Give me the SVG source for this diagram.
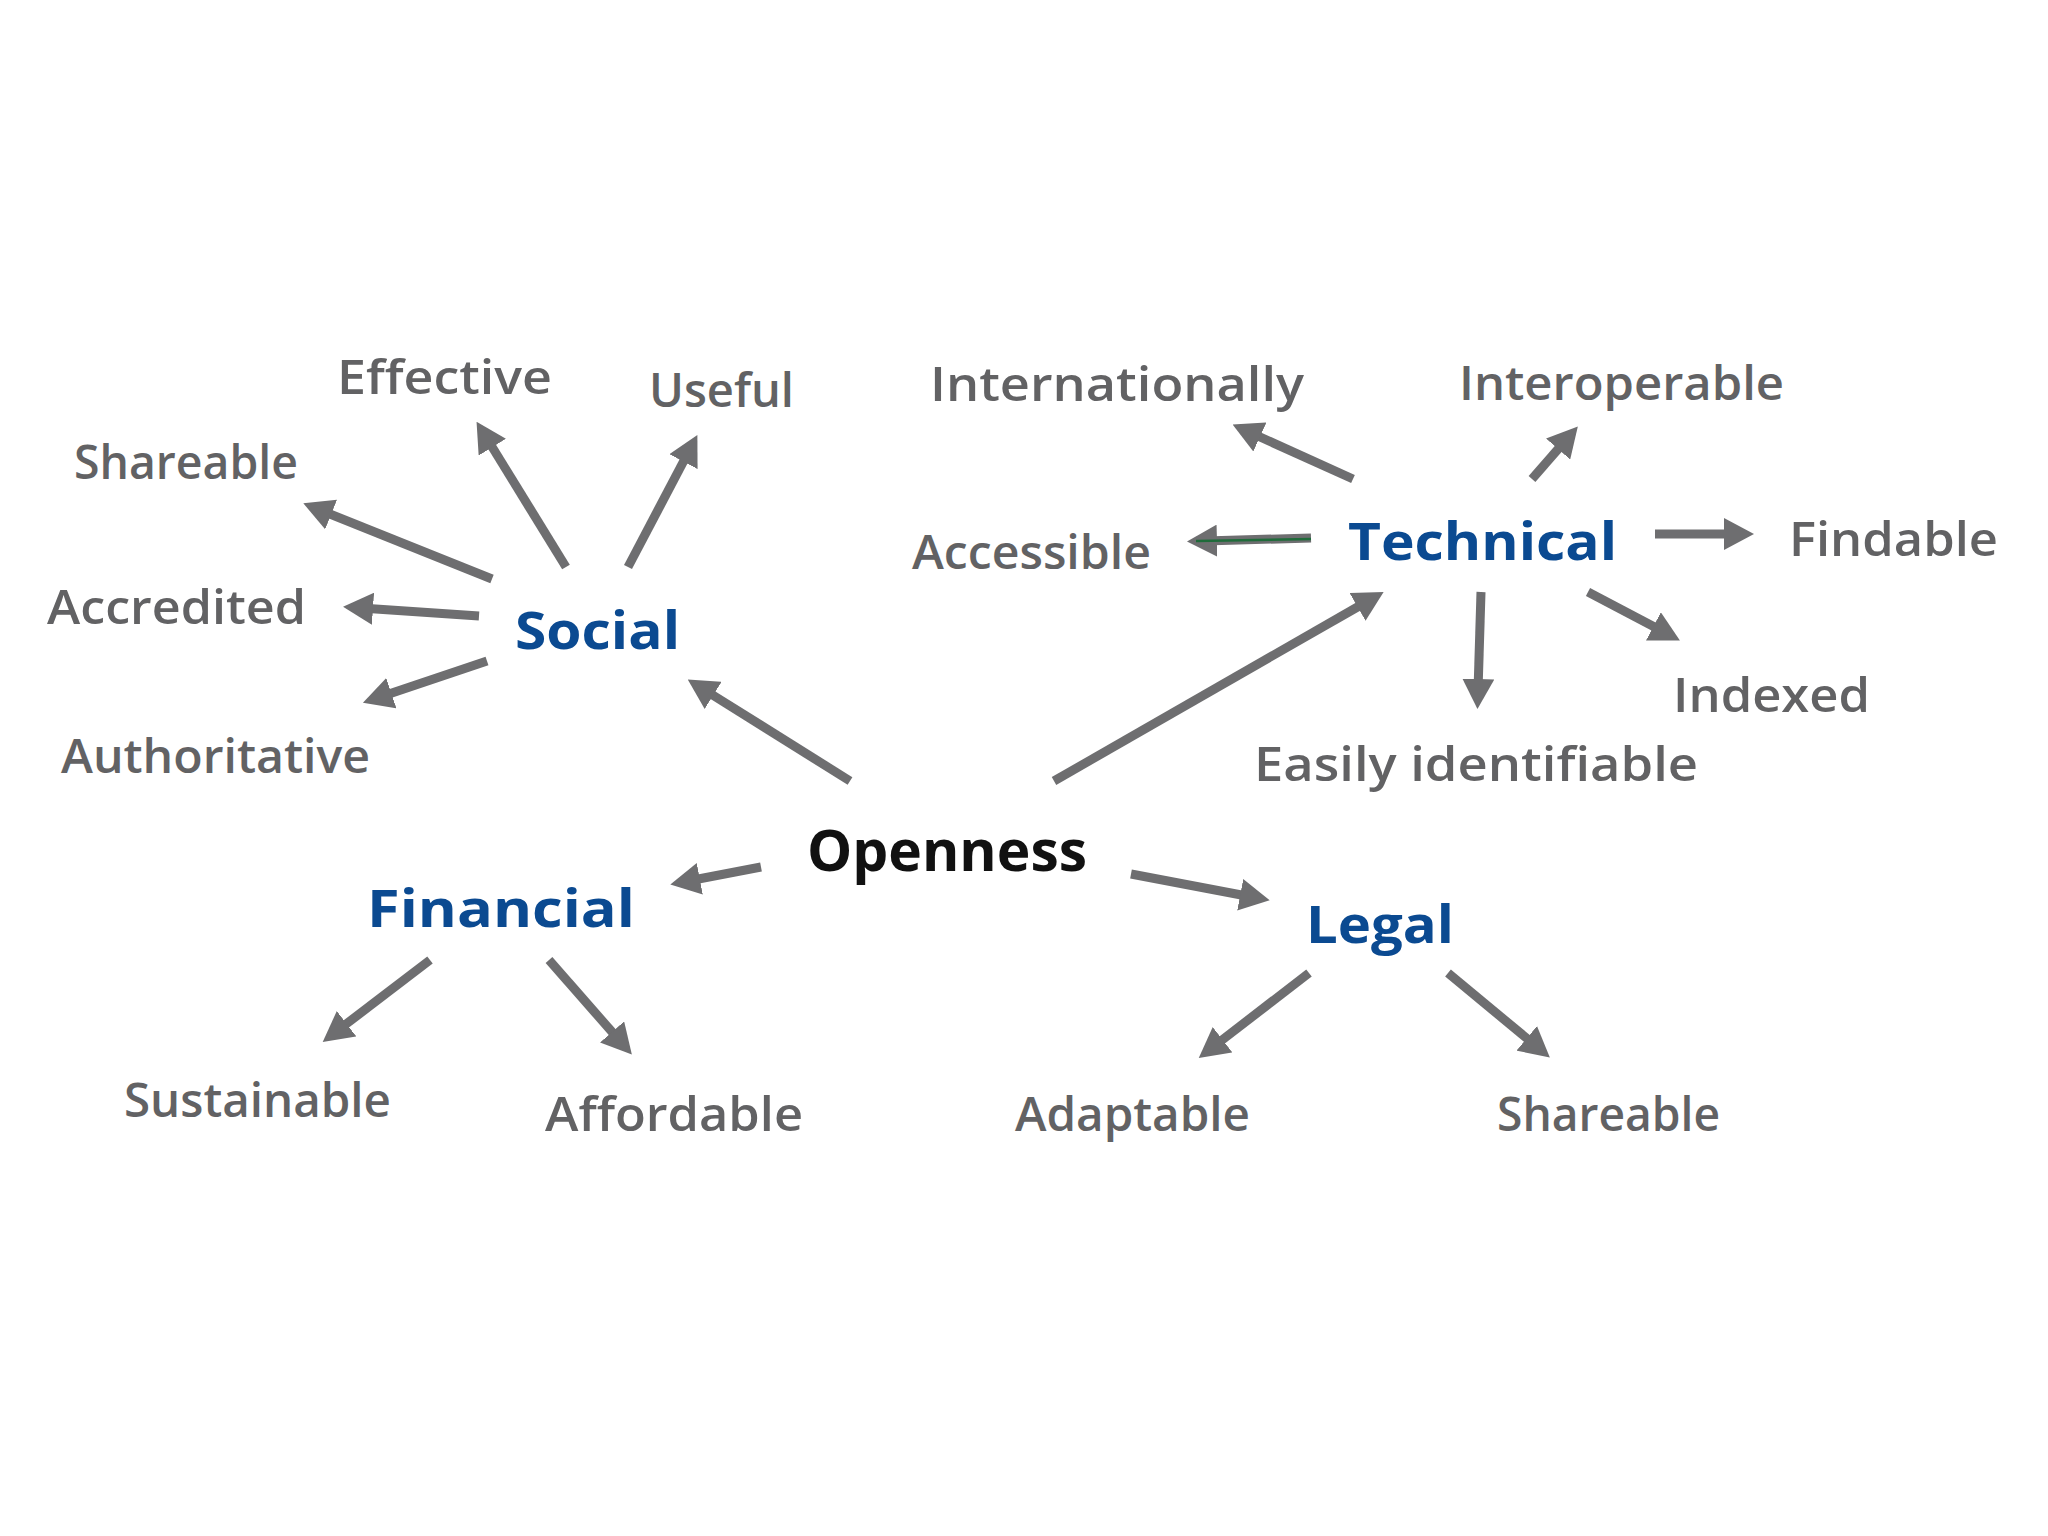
<svg xmlns="http://www.w3.org/2000/svg" width="2048" height="1536" viewBox="0 0 2048 1536">
<defs>
<style>
.leaf{font-family:"Open Sans","Liberation Sans",sans-serif;font-size:47px;font-weight:600;fill:#626264}
.cat{font-family:"Open Sans","Liberation Sans",sans-serif;font-size:52px;font-weight:700;fill:#0b4a91}
.root{font-family:"Open Sans","Liberation Sans",sans-serif;font-size:58px;font-weight:700;fill:#111111}
.arr{stroke:#6e6e70;stroke-width:9;fill:none;marker-end:url(#ah)}
</style>
<marker id="ah" markerUnits="userSpaceOnUse" markerWidth="30" markerHeight="32" viewBox="0 0 30 32" refX="12" refY="16" orient="auto">
<path d="M0,0 L30,16 L0,32 z" fill="#6e6e70"/>
</marker>
</defs>
<rect width="2048" height="1536" fill="#ffffff"/>
<g id="connectors">
<line class="arr" x1="492" y1="579" x2="320" y2="510"/>
<line class="arr" x1="566" y1="567" x2="486" y2="437"/>
<line class="arr" x1="628" y1="567" x2="689" y2="451"/>
<line class="arr" x1="479" y1="616" x2="361" y2="608"/>
<line class="arr" x1="487" y1="661" x2="380" y2="697"/>
<line class="arr" x1="850" y1="781" x2="703" y2="689"/>
<line class="arr" x1="1054" y1="781" x2="1368" y2="601"/>
<line class="arr" x1="1353" y1="479" x2="1249" y2="432"/>
<line class="arr" x1="1532" y1="479" x2="1566" y2="440"/>
<line class="arr" x1="1311" y1="538" x2="1205" y2="541"/>
<line x1="1311" y1="539" x2="1196" y2="541" stroke="#1f6b3a" stroke-width="2.5"/>
<line class="arr" x1="1655" y1="534" x2="1736" y2="534"/>
<line class="arr" x1="1481" y1="592" x2="1478" y2="691"/>
<line class="arr" x1="1588" y1="592" x2="1664" y2="632"/>
<line class="arr" x1="761" y1="867" x2="688" y2="881"/>
<line class="arr" x1="1131" y1="874" x2="1252" y2="897"/>
<line class="arr" x1="430" y1="960" x2="337" y2="1031"/>
<line class="arr" x1="549" y1="960" x2="620" y2="1041"/>
<line class="arr" x1="1309" y1="973" x2="1213" y2="1047"/>
<line class="arr" x1="1448" y1="973" x2="1536" y2="1046"/>
</g>
<g id="openness"><text class="root" x="807" y="871" textLength="280" lengthAdjust="spacingAndGlyphs">Openness</text></g>
<g id="social"><text class="cat" x="515" y="649" textLength="165" lengthAdjust="spacingAndGlyphs">Social</text></g>
<g id="technical"><text class="cat" x="1348" y="560" textLength="269" lengthAdjust="spacingAndGlyphs">Technical</text></g>
<g id="financial"><text class="cat" x="367" y="927" textLength="268" lengthAdjust="spacingAndGlyphs">Financial</text></g>
<g id="legal"><text class="cat" x="1306" y="943" textLength="148" lengthAdjust="spacingAndGlyphs">Legal</text></g>
<g id="effective"><text class="leaf" x="337" y="394" textLength="215" lengthAdjust="spacingAndGlyphs">Effective</text></g>
<g id="useful"><text class="leaf" x="649" y="407" textLength="145" lengthAdjust="spacingAndGlyphs">Useful</text></g>
<g id="shareable-social"><text class="leaf" x="74" y="479" textLength="224" lengthAdjust="spacingAndGlyphs">Shareable</text></g>
<g id="accredited"><text class="leaf" x="47" y="624" textLength="259" lengthAdjust="spacingAndGlyphs">Accredited</text></g>
<g id="authoritative"><text class="leaf" x="61" y="773" textLength="309" lengthAdjust="spacingAndGlyphs">Authoritative</text></g>
<g id="internationally"><text class="leaf" x="930" y="401" textLength="374" lengthAdjust="spacingAndGlyphs">Internationally</text></g>
<g id="interoperable"><text class="leaf" x="1459" y="400" textLength="325" lengthAdjust="spacingAndGlyphs">Interoperable</text></g>
<g id="accessible"><text class="leaf" x="912" y="569" textLength="239" lengthAdjust="spacingAndGlyphs">Accessible</text></g>
<g id="findable"><text class="leaf" x="1789" y="556" textLength="209" lengthAdjust="spacingAndGlyphs">Findable</text></g>
<g id="indexed"><text class="leaf" x="1673" y="712" textLength="197" lengthAdjust="spacingAndGlyphs">Indexed</text></g>
<g id="easily-identifiable"><text class="leaf" x="1254" y="781" textLength="444" lengthAdjust="spacingAndGlyphs">Easily identifiable</text></g>
<g id="sustainable"><text class="leaf" x="124" y="1117" textLength="267" lengthAdjust="spacingAndGlyphs">Sustainable</text></g>
<g id="affordable"><text class="leaf" x="545" y="1131" textLength="258" lengthAdjust="spacingAndGlyphs">Affordable</text></g>
<g id="adaptable"><text class="leaf" x="1015" y="1131" textLength="235" lengthAdjust="spacingAndGlyphs">Adaptable</text></g>
<g id="shareable-legal"><text class="leaf" x="1497" y="1131" textLength="223" lengthAdjust="spacingAndGlyphs">Shareable</text></g>
</svg>
